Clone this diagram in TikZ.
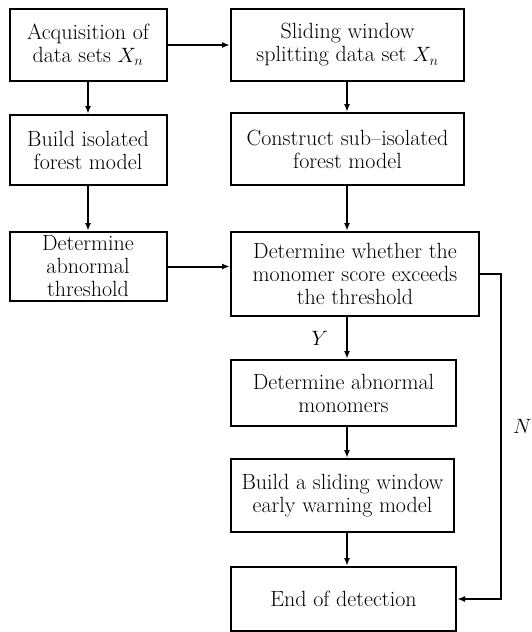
\documentclass[tikz,border=0pt]{standalone}
\usetikzlibrary{arrows.meta}

\def\leftX{88}
\def\rightX{230}
\def\spineX{347}
\def\loopX{501}

\tikzset{
    stage/.style = {draw, line width = 2pt, align = center, inner sep = 1pt,
        font = \fontsize{22}{23}\selectfont},
    flow/.style = {line width = 2pt, -{Latex[length = 8pt, width = 6pt]}},
    tag/.style = {font = \fontsize{22}{23}\selectfont, inner sep = 1pt},
}

\begin{document}
\begin{tikzpicture}[x = 1pt, y = -1pt]
            \useasboundingbox (0,0) rectangle (531,632);

            %% left column
            \node [stage, minimum width = 157pt, minimum height = 72pt] (acquire) at (\leftX,45)
                {Acquisition of\\data sets $X_n$};
            \node [stage, minimum width = 157pt, minimum height = 70pt] (forest) at (\leftX,150)
                {Build isolated\\forest model};
            \node [stage, minimum width = 157pt, minimum height = 69pt] (threshold) at (\leftX,266.5)
                {Determine\\abnormal\\threshold};

            %% right column
            \node [stage, anchor = west, minimum width = 233pt, minimum height = 72pt] (split) at (\rightX,45)
                {Sliding window\\splitting data set $X_n$};
            \node [stage, anchor = west, minimum width = 233pt, minimum height = 72pt] (subforest) at (\rightX,149)
                {Construct sub--isolated\\forest model};
            \node [stage, anchor = west, minimum width = 248pt, minimum height = 84pt] (exceed) at (\rightX,274)
                {Determine whether the\\monomer score exceeds\\the threshold};
            \node [stage, anchor = west, minimum width = 225pt, minimum height = 66pt] (monomer) at (\rightX,393)
                {Determine abnormal\\monomers};
            \node [stage, anchor = west, minimum width = 223pt, minimum height = 73pt] (warning) at (\rightX,495.5)
                {Build a sliding window\\early warning model};
            \node [stage, anchor = west, minimum width = 225pt, minimum height = 64pt] (finish) at (\rightX,599)
                {End of detection};

            \coordinate (spine) at (\spineX,0);
            \coordinate (loop) at (\loopX,0);

            \draw [flow] (acquire) -- (forest);
            \draw [flow] (forest) -- (threshold);
            \draw [flow] (acquire) -- (split);
            \draw [flow] (threshold.east) -- (threshold.east -| exceed.west);

            \draw [flow] (split.south -| spine) -- (subforest.north -| spine);
            \draw [flow] (subforest.south -| spine) -- (exceed.north -| spine);
            \draw [flow] (exceed.south -| spine) -- (monomer.north -| spine)
                node [tag, pos = 0.5, left = 17pt] (yes) {$Y$};
            \draw [flow] (monomer.south -| spine) -- (warning.north -| spine);
            \draw [flow] (warning.south -| spine) -- (finish.north -| spine);

            \draw [flow] (exceed.east) -- (exceed.east -| loop) -- (finish.east -| loop)
                node [tag, pos = 0.47, right = 10pt] (no) {$N$}
                -- (finish.east);
        \end{tikzpicture}
\end{document}
